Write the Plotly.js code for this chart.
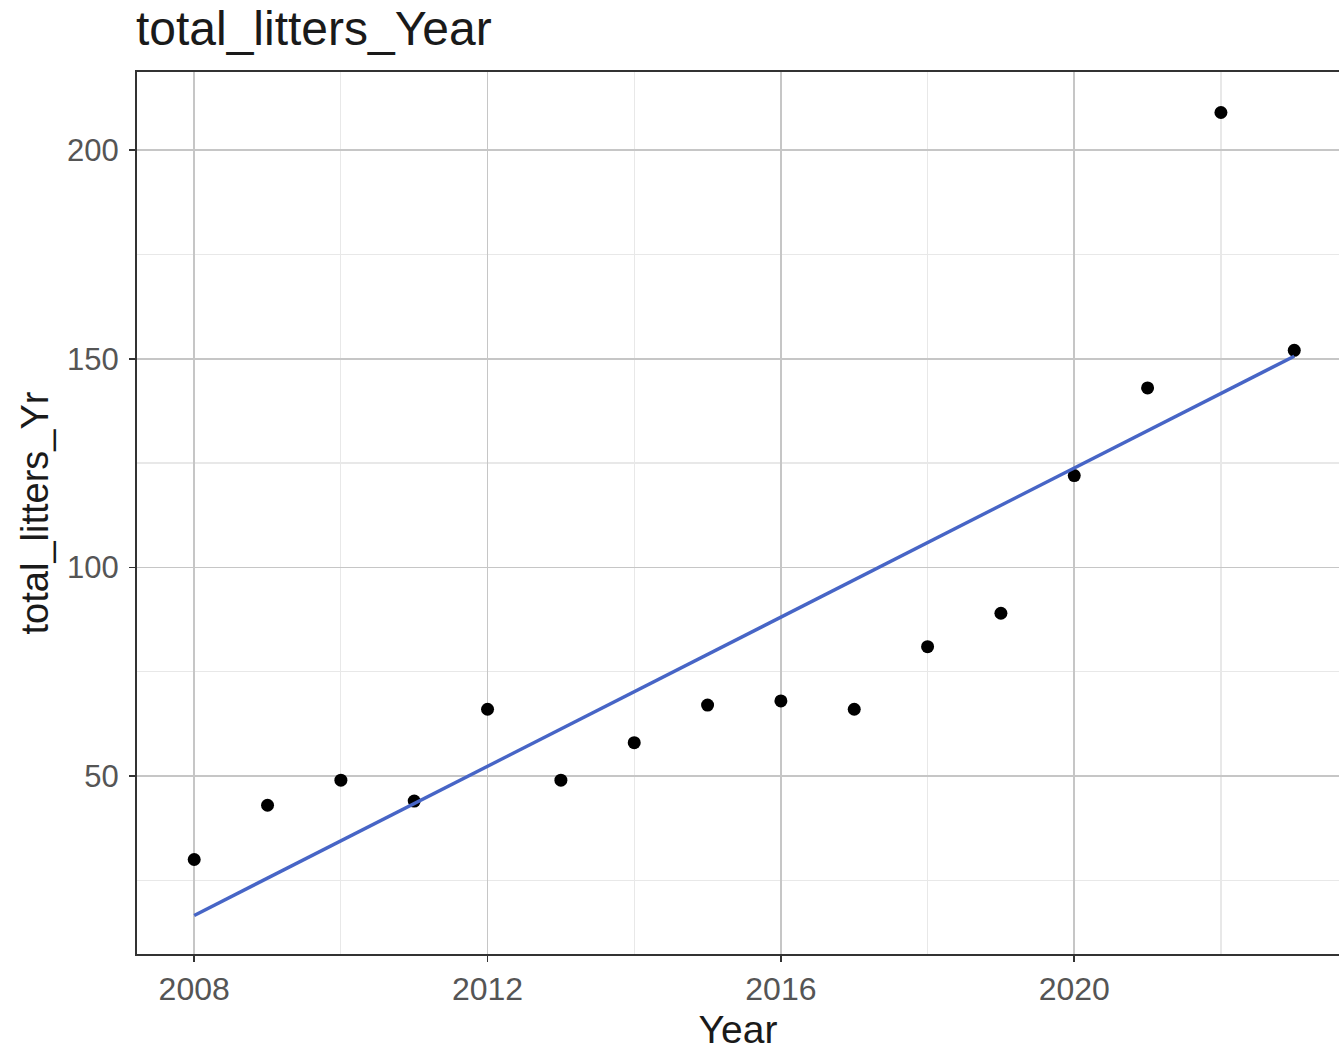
<!DOCTYPE html>
<html>
<head>
<meta charset="utf-8">
<script src="https://cdn.plot.ly/plotly-3.0.1.min.js"></script>
<style>html,body{margin:0;padding:0;background:#fff;overflow:hidden;}</style>
</head>
<body>
<div id="chart" style="width:1339px;height:1054px;"></div>
<script>
const years = [2008,2009,2010,2011,2012,2013,2014,2015,2016,2017,2018,2019,2020,2021,2022,2023];
const totalLitters = [30,43,49,44,66,49,58,67,68,66,81,89,122,143,209,152];
const fitYears = [2008, 2023];
const fitValues = [16.6, 150.6];
const xTicks = [2008, 2012, 2016, 2020];
const yTicks = [50, 100, 150, 200];

const pts = {
  x: years, y: totalLitters, type: 'scatter', mode: 'markers',
  marker: {color: '#000000', size: 13}, hoverinfo: 'x+y', showlegend: false
};
const fit = {
  x: fitYears, y: fitValues, type: 'scatter', mode: 'lines',
  line: {color: '#4765c6', width: 3.4}, showlegend: false
};

const layout = {
  width: 1339, height: 1054,
  margin: {l: 137, r: 0, t: 72, b: 100},
  paper_bgcolor: '#ffffff', plot_bgcolor: '#ffffff',
  font: {family: 'Liberation Sans, Arial, sans-serif'},
  title: {text: 'total_litters_Year', x: 0.1015, xref: 'container', xanchor: 'left',
          y: 0.973, yref: 'container', yanchor: 'middle',
          font: {size: 48, color: '#1a1a1a'}},
  xaxis: {
    range: [2007.22, 2023.61], tickvals: xTicks, ticktext: xTicks.map(String),
    showgrid: true, gridcolor: '#c6c6c6', gridwidth: 1.6,
    minor: {tickvals: [2010, 2014, 2018, 2022], showgrid: true, gridcolor: '#e8e8e8', gridwidth: 1.2},
    showline: true, linecolor: '#333333', linewidth: 2, mirror: true,
    ticks: 'outside', ticklen: 6, tickwidth: 1.6, tickcolor: '#333333',
    tickfont: {size: 32, color: '#555555'},
    zeroline: false,
    title: {text: 'Year', font: {size: 39, color: '#1a1a1a'}, standoff: 9}
  },
  yaxis: {
    range: [7.35, 218.7], tickvals: yTicks, ticktext: yTicks.map(String),
    showgrid: true, gridcolor: '#c6c6c6', gridwidth: 1.6,
    minor: {tickvals: [25, 75, 125, 175], showgrid: true, gridcolor: '#e8e8e8', gridwidth: 1.2},
    showline: true, linecolor: '#333333', linewidth: 2, mirror: false,
    ticks: 'outside', ticklen: 6, tickwidth: 1.6, tickcolor: '#333333',
    tickfont: {size: 31, color: '#555555'},
    ticklabelstandoff: 4,
    zeroline: false,
    title: {text: 'total_litters_Yr', font: {size: 38, color: '#1a1a1a'}, standoff: 7}
  }
};

Plotly.newPlot('chart', [pts, fit], layout, {displayModeBar: false, staticPlot: true});
</script>
</body>
</html>
